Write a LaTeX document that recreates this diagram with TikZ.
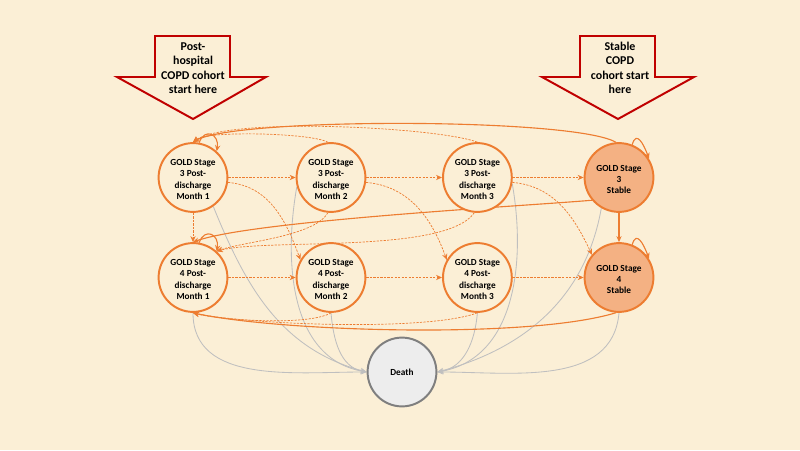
\documentclass[tikz,border=0pt]{standalone}
\usepackage{fontspec}
\setmainfont{Carlito}
\usetikzlibrary{positioning,arrows.meta,backgrounds}
\definecolor{bgcream}{RGB}{251,239,214}
\definecolor{copdorange}{RGB}{237,125,49}
\definecolor{stablefill}{RGB}{244,177,131}
\definecolor{deathfill}{RGB}{237,237,237}
\definecolor{deathline}{RGB}{127,127,127}
\definecolor{dieline}{RGB}{191,191,191}
\definecolor{cohortred}{RGB}{192,0,0}
\tikzset{
>={Stealth[length=1.5mm,width=1.3mm]}, % small arrow heads
every node/.style={font=\bfseries\fontsize{6.6}{8}\selectfont,align=center},
on grid
}

\begin{document}
\begin{tikzpicture}[
  state/.style={circle, draw=copdorange, line width=1.4pt, fill=bgcream, minimum size=1.72cm, inner sep=0pt},
  stable/.style={state, fill=stablefill},
  dead/.style={circle, draw=deathline, line width=1.4pt, fill=deathfill, minimum size=1.72cm, inner sep=0pt},
  move/.style={copdorange, dash pattern=on 1.6pt off 0.9pt, line width=0.5pt},
  stay/.style={copdorange, line width=0.8pt},
  die/.style={dieline, line width=0.6pt},
  cohort/.style={draw=cohortred, line width=1.4pt, fill=bgcream, line join=miter},
  cohorttext/.style={font=\bfseries\fontsize{8.5}{10.3}\selectfont}
]
\useasboundingbox (0,0) rectangle (20,11.25);

% start-here arrows
\draw[cohort] (3.875,10.35) -- (5.75,10.35) -- (5.75,9.325) -- (6.65,9.325)
  -- (4.825,8.275) -- (2.925,9.325) -- (3.875,9.325) -- cycle;
\node[cohorttext] (hosp) at (4.825,9.55) {Post-\\hospital\\COPD cohort\\start here};
\draw[cohort] (14.5,10.35) -- (16.375,10.35) -- (16.375,9.325) -- (17.35,9.325)
  -- (15.45,8.275) -- (13.55,9.325) -- (14.5,9.325) -- cycle;
\node[cohorttext] (stab) at (15.5,9.55) {Stable\\COPD\\cohort start\\here};

% states
\node[state] (s3m1) at (4.825,6.8125) {\\[-1pt]GOLD Stage\\3 Post-\\discharge\\Month 1};
\node[state] (s3m2) [right=3.45cm of s3m1] {\\[-1pt]GOLD Stage\\3 Post-\\discharge\\Month 2};
\node[state] (s3m3) [right=3.66cm of s3m2] {\\[-1pt]GOLD Stage\\3 Post-\\discharge\\Month 3};
\node[stable] (s3st) [right=3.54cm of s3m3] {\\[-1pt]GOLD Stage\\3\\Stable};
\node[state] (s4m1) [below=2.5cm of s3m1] {\\[-1pt]GOLD Stage\\4 Post-\\discharge\\Month 1};
\node[state] (s4m2) [below=2.5cm of s3m2] {\\[-1pt]GOLD Stage\\4 Post-\\discharge\\Month 2};
\node[state] (s4m3) [below=2.5cm of s3m3] {\\[-1pt]GOLD Stage\\4 Post-\\discharge\\Month 3};
\node[stable] (s4st) [below=2.5cm of s3st] {\\[-1pt]GOLD Stage\\4\\Stable};
\node[dead] (death) at (10.05,1.95) {Death};

\begin{scope}[on background layer]
\fill[bgcream] (0,0) rectangle (20,11.25);
% transitions to death
\path[->]
  (s3m1.-55) edge[die, out=-68, in=165] (death.west)
  (s4m1.south) edge[die, out=-90, in=180] (death.west)
  (s3m2.195) edge[die, out=-100, in=170] (death.west)
  (s4m2.south) edge[die, out=-85, in=170] (death.west)
  (s3m3.-10) edge[die, out=-80, in=10] (death.east)
  (s4m3.south) edge[die, out=-95, in=10] (death.east)
  (s3st.240) edge[die, out=-100, in=15] (death.east)
  (s4st.south) edge[die, out=-95, in=0] (death.east);
% forward and worsening
\path[->]
  (s3m1) edge[move] (s3m2)
  (s3m2) edge[move] (s3m3)
  (s3m3) edge[move] (s3st)
  (s4m1) edge[move] (s4m2)
  (s4m2) edge[move] (s4m3)
  (s4m3) edge[move] (s4st)
  (s3m1) edge[move] (s4m1)
  (s3st) edge[stay] (s4st)
  (s3m1.-8) edge[move, out=-5, in=110] (s4m2.150)
  (s3m2.-8) edge[move, out=-5, in=110] (s4m3.150)
  (s3m3.-8) edge[move, out=-5, in=115] (s4st.140);
% staying
\path[->]
  (s3m1.80) edge[stay, out=70, in=80, looseness=2.2] (s3m1.48)
  (s4m1.80) edge[stay, out=70, in=80, looseness=2.2] (s4m1.48)
  (s3st.68) edge[stay, out=75, in=110, looseness=1.8] (s3st.32)
  (s4st.68) edge[stay, out=75, in=110, looseness=1.8] (s4st.32);
% exacerbation: back to month 1
\path[->]
  (s3st.95) edge[stay, out=150, in=30, looseness=0.3] (s3m1.north)
  (s3m3.north) edge[move, out=160, in=35, looseness=0.4] (s3m1.north)
  (s3m2.95) edge[move, out=150, in=40, looseness=0.35] (s3m1.north)
  (s3st.220) edge[stay, out=185, in=20, looseness=0.4] (s4m1.north)
  (s3m3.265) edge[move, out=235, in=15, looseness=0.5] (s4m1.48)
  (s3m2.265) edge[move, out=240, in=20, looseness=0.6] (s4m1.48)
  (s4st.265) edge[stay, out=197, in=-12, looseness=0.55] (s4m1.south)
  (s4m3.south) edge[move, out=200, in=-12, looseness=0.5] (s4m1.south)
  (s4m2.south) edge[move, out=210, in=-15, looseness=0.5] (s4m1.south);
\end{scope}
\end{tikzpicture}
\end{document}
